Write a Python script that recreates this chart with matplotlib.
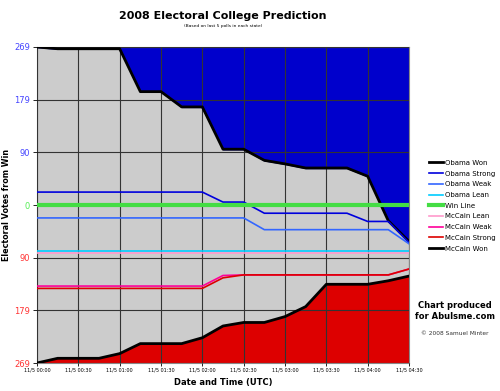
import numpy as np
from matplotlib import pyplot as plt

# minutes after 11/5 00:00 UTC, one sample every 15 min
minutes = list(range(0, 271, 15))
obama_won = [269, 266, 266, 266, 266, 193, 193, 167, 167, 95, 95, 76, 70, 63, 63, 63, 49, -27, -62]
obama_strong = [22, 22, 22, 22, 22, 22, 22, 22, 22, 5, 5, -14, -14, -14, -14, -14, -28, -28, -64]
obama_weak = [-22] * 11 + [-42] * 7 + [-66]
obama_lean = [-78] * 19
mccain_lean = [-81] * 19
mccain_weak = [-138] * 9 + [-120] + [-119] * 8 + [-109]
mccain_strong = [-142] * 9 + [-124] + [-119] * 8 + [-109]
mccain_won = [-269, -261, -261, -261, -253, -236, -236, -236, -226, -206, -200, -200, -190, -173, -135, -135, -135, -129, -121]

xtick_minutes = list(range(0, 271, 30))
xtick_labels = ["11/5 %02d:%02d" % (m // 60, m % 60) for m in xtick_minutes]
ytick_values = [269, 179, 90, 0, -90, -179, -269]
ytick_labels = ["269", "179", "90", "0", "90", "179", "269"]
ytick_colors = ["#4444ff"] * 3 + ["#55ee55"] + ["#ff3333"] * 3

fig = plt.figure(figsize=(5, 3.91), dpi=100)
ax = fig.add_axes([0.074, 0.0716, 0.744, 0.8082])
ax.set_facecolor("#cccccc")

x = np.array(minutes)
ax.fill_between(x, obama_won, 269, color="#0000cc", zorder=1)
ax.fill_between(x, mccain_won, -269, color="#dd0000", zorder=1)

ax.grid(True, color="#333333", linewidth=0.8, zorder=2)
ax.set_axisbelow(False)

lines = [
    ("Obama Won", obama_won, "black", 2.0),
    ("Obama Strong", obama_strong, "#0000dd", 1.2),
    ("Obama Weak", obama_weak, "#3366ff", 1.2),
    ("Obama Lean", obama_lean, "#00ccff", 1.2),
    ("Win Line", [0] * len(x), "#44dd44", 3.0),
    ("McCain Lean", mccain_lean, "#ff99cc", 1.2),
    ("McCain Weak", mccain_weak, "#ff0099", 1.2),
    ("McCain Strong", mccain_strong, "#dd0000", 1.2),
    ("McCain Won", mccain_won, "black", 2.0),
]
handles = []
for name, vals, col, lw in lines:
    h, = ax.plot(x, vals, color=col, lw=lw, label=name, zorder=3)
    handles.append(h)

ax.set_xlim(0, 270)
ax.set_ylim(-269, 269)
ax.set_xticks(xtick_minutes)
ax.set_xticklabels(xtick_labels, fontsize=3.5)
ax.set_yticks(ytick_values)
ax.set_yticklabels(ytick_labels, fontsize=6)
for lab, col in zip(ax.get_yticklabels(), ytick_colors):
    lab.set_color(col)
ax.tick_params(axis="x", length=2, width=0.6, pad=1.5)
ax.tick_params(axis="y", length=3, width=0.6, pad=2)
for s in ax.spines.values():
    s.set_color("#888888")

ax.set_xlabel("Date and Time (UTC)", fontsize=6, fontweight="bold", labelpad=4)
ax.set_ylabel("Electoral Votes from Win", fontsize=5.8, fontweight="bold")
ax.yaxis.set_label_coords(-0.07, 0.5)

fig.text(0.446, 0.958, "2008 Electoral College Prediction", ha="center", va="center",
         fontsize=8, fontweight="bold")
fig.text(0.446, 0.934, "(Based on last 5 polls in each state)", ha="center", va="center", fontsize=3.2)

fig.legend(handles=handles, loc="upper left", bbox_to_anchor=(0.852, 0.6), frameon=False,
           fontsize=5, handlelength=2.0, handletextpad=0.3, labelspacing=0.68, borderpad=0)

fig.text(0.91, 0.205, "Chart produced\nfor Abulsme.com", ha="center", va="center",
         fontsize=6, fontweight="bold", linespacing=1.2)
fig.text(0.91, 0.147, "\u00a9 2008 Samuel Minter", ha="center", va="center", fontsize=4.2, color="#333333")

plt.savefig("out.png", dpi=100)
